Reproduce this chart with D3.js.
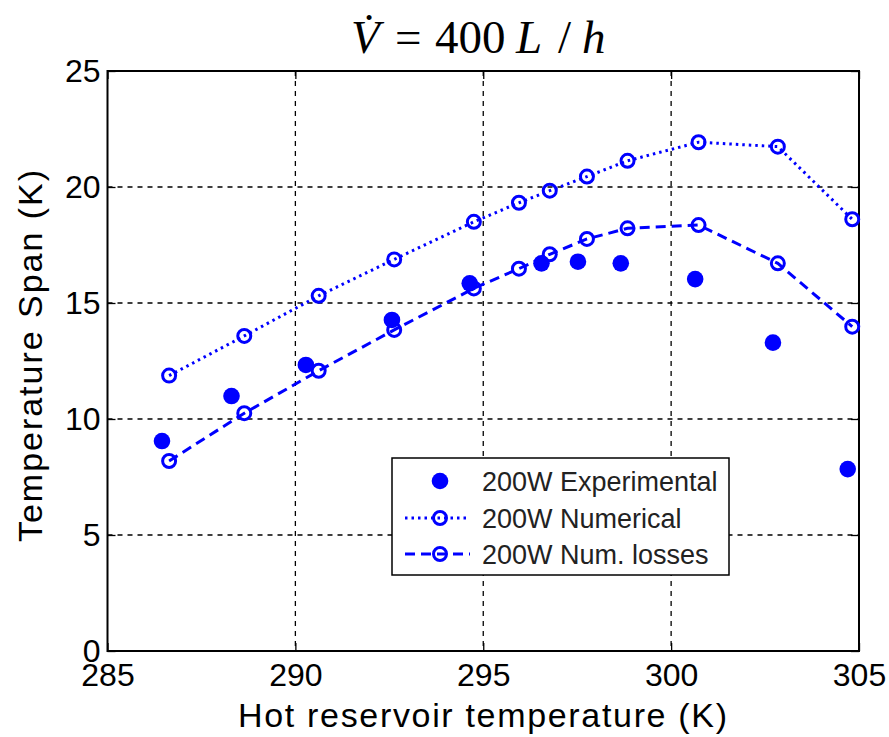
<!DOCTYPE html>
<html>
<head>
<meta charset="utf-8">
<script src="https://cdn.jsdelivr.net/npm/d3@7"></script>
<style>
  body { margin: 0; background: #fff; }
</style>
</head>
<body>
<svg id="chart" width="889" height="737" font-family="'Liberation Sans', Arial, sans-serif"></svg>
<script>
// hot reservoir temperature (K) for the model runs
var tempNum = [286.64, 288.64, 290.62, 292.63, 294.75, 295.95, 296.77, 297.76, 298.84, 300.73, 302.84, 304.82];
var spanNum = [11.87, 13.58, 15.31, 16.88, 18.50, 19.32, 19.84, 20.45, 21.13, 21.93, 21.74, 18.61];
var spanLoss = [8.19, 10.25, 12.08, 13.84, 15.63, 16.48, 17.10, 17.76, 18.22, 18.36, 16.71, 13.98];

// measured points
var tempExp = [286.45, 288.30, 290.28, 292.57, 294.64, 296.55, 297.52, 298.66, 300.64, 302.71, 304.70];
var spanExp = [9.05, 10.99, 12.33, 14.27, 15.85, 16.71, 16.78, 16.71, 16.03, 13.29, 7.84];

var xTicks = [285, 290, 295, 300, 305];
var yTicks = [0, 5, 10, 15, 20, 25];
var legendLabels = ["200W Experimental", "200W Numerical", "200W Num. losses"];

var svg = d3.select("#chart");
var blue = "#0000ff";
var pL = 107.5, pR = 859, pT = 71, pB = 651;

var x = d3.scaleLinear().domain([285, 305]).range([pL, pR]);
var y = d3.scaleLinear().domain([0, 25]).range([pB, pT]);

svg.append("rect").attr("width", 889).attr("height", 737).attr("fill", "#fff");

// grid
var grid = svg.append("g").attr("stroke", "#000").attr("stroke-width", 1.3).attr("stroke-dasharray", "5,5");
grid.selectAll(".gx").data(xTicks.slice(1, -1)).enter().append("line")
  .attr("x1", function(d){ return x(d); }).attr("x2", function(d){ return x(d); })
  .attr("y1", pT).attr("y2", pB);
grid.selectAll(".gy").data(yTicks.slice(1, -1)).enter().append("line")
  .attr("y1", function(d){ return y(d); }).attr("y2", function(d){ return y(d); })
  .attr("x1", pL).attr("x2", pR);

// axes (ticks inward, matlab style)
svg.append("g").attr("transform", "translate(0," + pB + ")")
  .call(d3.axisBottom(x).tickValues(xTicks).tickSize(-8).tickPadding(12))
  .call(function(g){
    g.select(".domain").remove();
    g.attr("font-family", null);
    g.selectAll("line").attr("stroke-width", 1.3);
    g.selectAll("text").attr("font-size", 32).attr("fill", "#000");
  });
svg.append("g").attr("transform", "translate(" + pL + ",0)")
  .call(d3.axisLeft(y).tickValues(yTicks).tickSize(-8).tickPadding(7))
  .call(function(g){
    g.select(".domain").remove();
    g.attr("font-family", null);
    g.selectAll("line").attr("stroke-width", 1.3);
    g.selectAll("text").attr("font-size", 32).attr("fill", "#000");
  });
svg.append("g").attr("transform", "translate(0," + pT + ")")
  .call(d3.axisTop(x).tickValues(xTicks).tickSize(-8).tickFormat(""))
  .call(function(g){ g.select(".domain").remove(); g.selectAll("line").attr("stroke-width", 1.3); });
svg.append("g").attr("transform", "translate(" + pR + ",0)")
  .call(d3.axisRight(y).tickValues(yTicks).tickSize(-8).tickFormat(""))
  .call(function(g){ g.select(".domain").remove(); g.selectAll("line").attr("stroke-width", 1.3); });

svg.append("rect").attr("x", pL).attr("y", pT)
  .attr("width", pR - pL).attr("height", pB - pT)
  .attr("fill", "none").attr("stroke", "#000").attr("stroke-width", 2);

// series
var numData = tempNum.map(function(t, i){ return [t, spanNum[i]]; });
var lossData = tempNum.map(function(t, i){ return [t, spanLoss[i]]; });
var expData = tempExp.map(function(t, i){ return [t, spanExp[i]]; });

var line = d3.line().x(function(d){ return x(d[0]); }).y(function(d){ return y(d[1]); });

svg.append("path").datum(numData).attr("d", line)
  .attr("fill", "none").attr("stroke", blue).attr("stroke-width", 3).attr("stroke-dasharray", "2.5,4");
svg.append("path").datum(lossData).attr("d", line)
  .attr("fill", "none").attr("stroke", blue).attr("stroke-width", 3).attr("stroke-dasharray", "10,6");

[numData, lossData].forEach(function(data){
  svg.append("g").selectAll("circle").data(data).enter().append("circle")
    .attr("cx", function(d){ return x(d[0]); })
    .attr("cy", function(d){ return y(d[1]); })
    .attr("r", 6.5).attr("fill", "none").attr("stroke", blue).attr("stroke-width", 3);
});

svg.append("g").selectAll("circle").data(expData).enter().append("circle")
  .attr("cx", function(d){ return x(d[0]); })
  .attr("cy", function(d){ return y(d[1]); })
  .attr("r", 8.3).attr("fill", blue);

// legend
var lg = svg.append("g");
lg.append("rect").attr("x", 392).attr("y", 458).attr("width", 337).attr("height", 117)
  .attr("fill", "#fff").attr("stroke", "#000").attr("stroke-width", 1.5);
var rows = [481, 518, 554];
lg.append("circle").attr("cx", 440).attr("cy", rows[0]).attr("r", 8.3).attr("fill", blue);
lg.append("line").attr("x1", 405).attr("x2", 470).attr("y1", rows[1]).attr("y2", rows[1])
  .attr("stroke", blue).attr("stroke-width", 3).attr("stroke-dasharray", "2.5,4");
lg.append("circle").attr("cx", 440).attr("cy", rows[1]).attr("r", 6.5)
  .attr("fill", "none").attr("stroke", blue).attr("stroke-width", 3);
lg.append("line").attr("x1", 405).attr("x2", 470).attr("y1", rows[2]).attr("y2", rows[2])
  .attr("stroke", blue).attr("stroke-width", 3).attr("stroke-dasharray", "10,6");
lg.append("circle").attr("cx", 440).attr("cy", rows[2]).attr("r", 6.5)
  .attr("fill", "none").attr("stroke", blue).attr("stroke-width", 3);
lg.selectAll("text").data(legendLabels).enter().append("text")
  .attr("x", 482).attr("y", function(d, i){ return rows[i]; })
  .attr("dy", "0.36em").attr("font-size", 27).attr("fill", "#222")
  .text(function(d){ return d; });

// axis titles
svg.append("text").attr("x", 482.5).attr("y", 727)
  .attr("text-anchor", "middle").attr("font-size", 34)
  .attr("textLength", 489).attr("lengthAdjust", "spacing")
  .text("Hot reservoir temperature (K)");
svg.append("text").attr("transform", "translate(42,356) rotate(-90)")
  .attr("text-anchor", "middle").attr("font-size", 34)
  .attr("textLength", 372).attr("lengthAdjust", "spacing")
  .text("Temperature Span (K)");

// title, pieces placed like the equation editor output
var title = svg.append("text").attr("y", 53)
  .attr("font-family", "'Liberation Serif', 'Times New Roman', serif").attr("font-size", 47);
title.append("tspan").attr("x", 351).attr("font-style", "italic").text("V\u0307");
title.append("tspan").attr("x", 395).text("=");
title.append("tspan").attr("x", 435).text("400");
title.append("tspan").attr("x", 516).attr("font-style", "italic").text("L");
title.append("tspan").attr("x", 558).text("/");
title.append("tspan").attr("x", 582).attr("font-style", "italic").text("h");
</script>
</body>
</html>
